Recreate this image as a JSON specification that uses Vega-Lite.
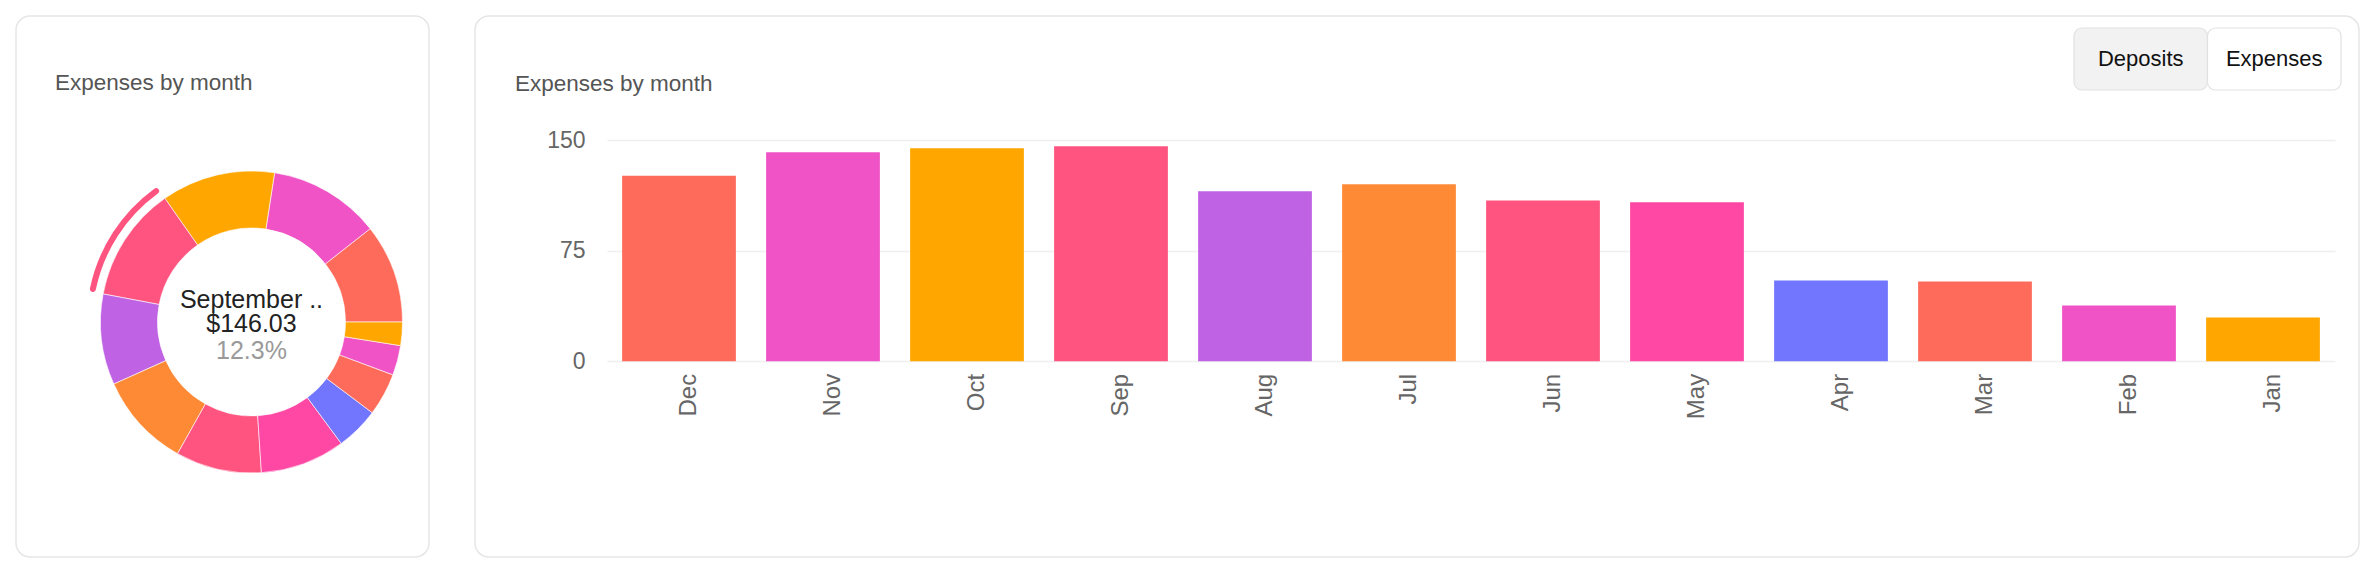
{
  "$schema": "https://vega.github.io/schema/vega-lite/v6.json",
  "background": "white",
  "padding": {"left": 15, "top": 15, "right": 15, "bottom": 18},
  "spacing": 44,
  "config": {
    "font": "Liberation Sans",
    "view": {"stroke": "#e6e6e6", "strokeWidth": 1.5, "cornerRadius": 14}
  },
  "datasets": {
    "months": [
      {"month": "Dec", "m": 12, "amount": 126.0},
      {"month": "Nov", "m": 11, "amount": 141.9},
      {"month": "Oct", "m": 10, "amount": 144.6},
      {"month": "Sep", "m": 9, "amount": 146.03},
      {"month": "Aug", "m": 8, "amount": 115.4},
      {"month": "Jul", "m": 7, "amount": 120.1},
      {"month": "Jun", "m": 6, "amount": 109.2},
      {"month": "May", "m": 5, "amount": 107.9},
      {"month": "Apr", "m": 4, "amount": 54.8},
      {"month": "Mar", "m": 3, "amount": 54.2},
      {"month": "Feb", "m": 2, "amount": 37.9},
      {"month": "Jan", "m": 1, "amount": 29.7}
    ],
    "center": [
      {"name": "September ..", "total": "$146.03", "share": "12.3%"}
    ],
    "toggle": [
      {"label": "Deposits", "group": "view", "active": "no"},
      {"label": "Expenses", "group": "view", "active": "yes"}
    ]
  },
  "hconcat": [
    {
      "width": 413,
      "height": 541,
      "title": {"text": "Expenses by month", "anchor": "start", "frame": "group", "offset": -97, "dx": 39, "baseline": "alphabetic", "fontSize": 22.5, "fontWeight": "normal", "color": "#555555", "font": "Liberation Sans"},
      "layer": [
        {
          "data": {"name": "center"},
          "mark": {"type": "rect", "fill": "transparent", "stroke": "#e6e6e6", "strokeWidth": 1.5, "cornerRadius": 14},
          "encoding": {}
        },
        {
          "data": {"name": "months"},
          "mark": {"type": "arc", "radius": 151, "radius2": 94, "xOffset": 29, "yOffset": 35.5, "stroke": "#ffffff", "strokeWidth": 0.6},
          "encoding": {
            "theta": {"field": "amount", "type": "quantitative", "stack": true, "scale": {"range": [1.5707963, 7.8539816]}},
            "order": {"field": "m", "type": "quantitative", "sort": "ascending"},
            "color": {"field": "month", "type": "nominal", "legend": null,
              "scale": {"domain": ["Jan","Feb","Mar","Apr","May","Jun","Jul","Aug","Sep","Oct","Nov","Dec"],
                        "range": ["#FFA600","#F053C6","#FF6B5A","#7276FF","#FF47A4","#FF5480","#FF8A36","#BF62E3","#FF5480","#FFA600","#F053C6","#FF6B5A"]}}
          }
        },
        {
          "data": {"name": "months"},
          "mark": {"type": "arc", "radius": 165, "radius2": 159, "xOffset": 29, "yOffset": 35.5, "cornerRadius": 3},
          "encoding": {
            "theta": {"field": "amount", "type": "quantitative", "stack": true},
            "order": {"field": "m", "type": "quantitative", "sort": "ascending"},
            "color": {"field": "month", "type": "nominal", "legend": null},
            "opacity": {"condition": {"test": "datum.month === 'Sep'", "value": 1}, "value": 0}
          }
        },
        {
          "data": {"name": "center"},
          "mark": {"type": "text", "fontSize": 25, "color": "#222222", "xOffset": 29, "yOffset": 35.5, "dy": -22, "baseline": "middle"},
          "encoding": {"text": {"field": "name"}}
        },
        {
          "data": {"name": "center"},
          "mark": {"type": "text", "fontSize": 25, "color": "#222222", "xOffset": 29, "yOffset": 35.5, "dy": 2, "baseline": "middle"},
          "encoding": {"text": {"field": "total"}}
        },
        {
          "data": {"name": "center"},
          "mark": {"type": "text", "fontSize": 25, "color": "#9a9a9a", "xOffset": 29, "yOffset": 35.5, "dy": 29, "baseline": "middle"},
          "encoding": {"text": {"field": "share"}}
        }
      ]
    },
    {
      "width": 1884,
      "height": 541,
      "title": {"text": "Expenses by month", "anchor": "start", "frame": "group", "offset": -97, "dx": 40, "baseline": "alphabetic", "fontSize": 22.5, "fontWeight": "normal", "color": "#555555", "font": "Liberation Sans"},
      "resolve": {"scale": {"x": "independent", "y": "independent"}},
      "layer": [
        {
          "data": {"name": "months"},
          "mark": {"type": "bar"},
          "encoding": {
            "x": {"field": "month", "type": "nominal", "sort": {"field": "m", "order": "descending"},
              "scale": {"range": [132, 1860], "paddingInner": 0.21, "paddingOuter": 0.105},
              "axis": {"title": null, "orient": "bottom", "offset": -195.7, "labelAngle": -90, "labelPadding": 12, "labelOffset": 10, "ticks": false, "tickSize": 0, "domain": false, "grid": false, "labelFontSize": 24, "labelColor": "#666666", "labelFont": "Liberation Sans"}},
            "y": {"field": "amount", "type": "quantitative",
              "scale": {"domain": [0, 150], "nice": false, "range": [345.3, 124.3]},
              "axis": {"title": null, "values": [0, 75, 150], "offset": -132, "labelPadding": 22, "ticks": false, "tickSize": 0, "domain": false, "grid": true, "gridColor": "#efefef", "gridWidth": 1.5, "labelFontSize": 23, "labelColor": "#666666", "labelFont": "Liberation Sans"}},
            "color": {"field": "month", "type": "nominal", "legend": null,
              "scale": {"domain": ["Jan","Feb","Mar","Apr","May","Jun","Jul","Aug","Sep","Oct","Nov","Dec"],
                        "range": ["#FFA600","#F053C6","#FF6B5A","#7276FF","#FF47A4","#FF5480","#FF8A36","#BF62E3","#FF5480","#FFA600","#F053C6","#FF6B5A"]}}
          }
        },
        {
          "data": {"name": "toggle"},
          "layer": [
            {
              "mark": {"type": "rect", "cornerRadius": 8, "stroke": "#e2e2e2", "strokeWidth": 1.2},
              "encoding": {
                "x": {"field": "label", "type": "nominal", "scale": {"range": [1599, 1866], "paddingInner": 0, "paddingOuter": 0}, "axis": null},
                "y": {"field": "group", "type": "nominal", "scale": {"range": [12, 74], "paddingInner": 0, "paddingOuter": 0}, "axis": null},
                "fill": {"field": "active", "type": "nominal", "legend": null, "scale": {"domain": ["no", "yes"], "range": ["#f2f2f2", "#ffffff"]}}
              }
            },
            {
              "mark": {"type": "text", "fontSize": 22, "color": "#111111", "baseline": "middle"},
              "encoding": {
                "x": {"field": "label", "type": "nominal"},
                "y": {"field": "group", "type": "nominal"},
                "text": {"field": "label"}
              }
            }
          ]
        }
      ]
    }
  ]
}
